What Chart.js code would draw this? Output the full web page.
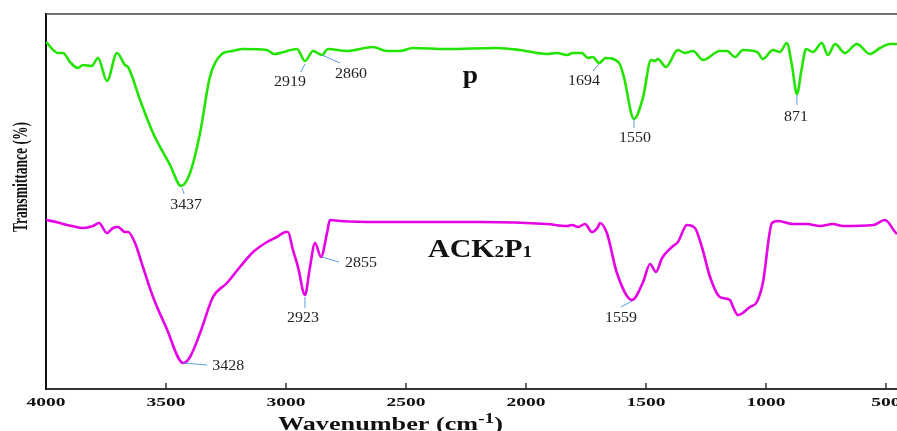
<!DOCTYPE html>
<html>
<head>
<meta charset="utf-8">
<script src="https://cdn.jsdelivr.net/npm/chart.js@4.4.1/dist/chart.umd.min.js"></script>
<style>
html,body{margin:0;padding:0;background:#fff;}
#wrap{width:897px;height:431px;position:relative;}
</style>
</head>
<body>
<div id="wrap"><canvas id="c" width="897" height="431"></canvas></div>
<script>
// ---------- DATA ----------
const seriesNames = ['P', 'ACK2P1'];
// wavenumbers (cm-1) and relative transmittance (arbitrary units) for sample P
const pWavenumber = [4000,3950,3929,3900,3867,3846,3810,3783,3746,3704,3671,3658,3608,3554,3483,3437,3400,3358,3317,3267,3221,3179,3079,3050,2954,2921,2887,2850,2825,2746,2638,2580,2525,2471,2333,2121,2025,1913,1871,1829,1804,1767,1742,1721,1696,1667,1612,1592,1550,1512,1479,1463,1450,1417,1367,1338,1304,1262,1192,1162,1129,1096,1037,1013,971,942,913,892,871,852,833,804,767,742,712,671,621,567,525,483,454];
const pValue      = [347,336,336,327,321,324,323,331,308,336,324,322,289,256,224,203,216,256,312,335,338,340,339,335,340,328,338,334,340,338,342,338,338,341,340,341,339,335,336,334,336,336,331,332,326,331,326,312,270,292,329,328,330,322,339,336,338,329,338,338,332,339,337,330,339,337,346,324,295,319,340,337,346,334,345,336,345,335,341,345,345];
// sample ACK2P1
const aWavenumber = [4000,3958,3929,3892,3846,3804,3779,3746,3721,3700,3671,3658,3629,3596,3554,3500,3428,3400,3358,3304,3246,3192,3137,3079,3038,3000,2992,2971,2950,2921,2900,2879,2854,2829,2817,2775,2608,2192,1913,1829,1808,1783,1754,1725,1700,1692,1663,1621,1558,1512,1483,1458,1433,1392,1367,1329,1296,1267,1233,1192,1150,1137,1117,1067,1038,1013,975,950,888,829,775,721,679,554,504,462,454];
const aValue      = [169,167,165,163,161,163,166,156,161,162,157,157,146,122,92,62,26,32,56,92,106,122,137,147,152,157,157,139,122,94,122,146,132,156,169,168,167,167,165,163,164,162,165,157,162,166,156,116,89,107,125,117,131,142,147,164,161,142,112,92,89,82,74,82,87,106,166,168,165,165,163,165,163,164,169,157,155];
// x-axis tick labels
const xTicks = [4000,3500,3000,2500,2000,1500,1000,500];
// peak annotations: series, wavenumber of marked point, label text
const peakSeries = ['P','P','P','P','P','P','ACK2P1','ACK2P1','ACK2P1','ACK2P1'];
const peakWn     = [3437,2921,2850,1696,1550,871,3428,2921,2854,1558];
const peakText   = ['3437','2919','2860','1694','1550','871','3428','2923','2855','1559'];
const xTitle = ['Wavenumber (cm', '-1', ')'];
const yTitle = 'Transmittance (%)';

// ---------- LAYOUT / STYLE (pixel offsets relative to marked point) ----------
const peakLayout = [
  {l:[1,2,3,8],   t:[5,23]},
  {l:[0,3,-4,11], t:[-15,25]},
  {l:[0,0,18,8],  t:[29,23]},
  {l:[0,1,-6,8],  t:[-15,22]},
  {l:[0,0,0,9],   t:[1,23]},
  {l:[0,1,0,11],  t:[-1,27]},
  {l:[0,0,24,2],  t:[45,7]},
  {l:[0,2,0,13],  t:[-2,27]},
  {l:[1,0,18,5],  t:[40,10]},
  {l:[0,1,-11,7], t:[-11,22]}
];
const SERIF = '"Liberation Serif","Times New Roman",serif';

function toXY(wn, v){ return wn.map((w,i)=>({x:w, y:v[i]})); }
const lookup = {P:[pWavenumber,pValue], ACK2P1:[aWavenumber,aValue]};

function drawParts(ctx, parts, x, baseline, align, targetW, sxDefault){
  ctx.save();
  let w = 0;
  parts.forEach(p=>{ ctx.font = p.font; p.w = ctx.measureText(p.t).width; w += p.w; });
  const sx = targetW ? targetW / w : (sxDefault || 1);
  const total = w*sx;
  let left = align==='center' ? x - total/2 : (align==='right' ? x-total : x);
  ctx.translate(left, baseline);
  ctx.scale(sx,1);
  ctx.textAlign='left'; ctx.textBaseline='alphabetic';
  let cx = 0;
  parts.forEach(p=>{ ctx.font=p.font; ctx.fillStyle=p.color||'#111'; ctx.fillText(p.t, cx, p.dy||0); cx += p.w; });
  ctx.restore();
}

const decor = {
  id:'decor',
  afterDraw(chart){
    const ctx = chart.ctx, xs = chart.scales.x, ys = chart.scales.y, ca = chart.chartArea;
    ctx.save();
    // top frame line
    ctx.strokeStyle='#444'; ctx.lineWidth=1.5;
    ctx.beginPath(); ctx.moveTo(ca.left, ca.top); ctx.lineTo(ca.right, ca.top); ctx.stroke();
    // inward tick marks and tick labels
    ctx.strokeStyle='#333'; ctx.lineWidth=1.5;
    xTicks.forEach(t=>{
      const px = xs.getPixelForValue(t);
      if (t !== xs.max) { ctx.beginPath(); ctx.moveTo(px, ca.bottom); ctx.lineTo(px, ca.bottom-6); ctx.stroke(); }
      drawParts(ctx, [{t:String(t), font:'bold 13px '+SERIF, color:'#111'}], px, ca.bottom+17, 'center', null, 1.5);
    });
    // axis titles
    drawParts(ctx, [
      {t:xTitle[0], font:'bold 19px '+SERIF},
      {t:xTitle[1], font:'bold 14px '+SERIF, dy:-7},
      {t:xTitle[2], font:'bold 19px '+SERIF}
    ], 278, 430, 'left', 225);
    ctx.save();
    ctx.translate(27, 177);
    ctx.rotate(-Math.PI/2);
    drawParts(ctx, [{t:yTitle, font:'bold 21px '+SERIF}], 0, 0, 'center', 110);
    ctx.restore();
    // series labels
    drawParts(ctx, [{t:'p', font:'bold 25px '+SERIF}], 470.5, 83, 'center', null, 1.1);
    drawParts(ctx, [
      {t:'ACK', font:'bold 25px '+SERIF},
      {t:'2', font:'bold 16px '+SERIF},
      {t:'P', font:'bold 25px '+SERIF},
      {t:'1', font:'bold 16px '+SERIF}
    ], 428, 257, 'left', 104);
    // peak annotations
    peakWn.forEach((wn,i)=>{
      const [W,V] = lookup[peakSeries[i]];
      const idx = W.indexOf(wn);
      const px = xs.getPixelForValue(wn), py = ys.getPixelForValue(V[idx]);
      const L = peakLayout[i];
      ctx.strokeStyle='#5b9be0'; ctx.lineWidth=1;
      ctx.beginPath(); ctx.moveTo(px+L.l[0], py+L.l[1]); ctx.lineTo(px+L.l[2], py+L.l[3]); ctx.stroke();
      drawParts(ctx, [{t:peakText[i], font:'14.5px '+SERIF, color:'#222'}], px+L.t[0], py+L.t[1], 'center', null, 1.1);
    });
    ctx.restore();
  }
};

new Chart(document.getElementById('c'), {
  type:'line',
  data:{
    datasets:[
      {label:seriesNames[0], data:toXY(pWavenumber,pValue), borderColor:'#22e400', borderWidth:2.6, pointRadius:0, cubicInterpolationMode:'monotone', fill:false},
      {label:seriesNames[1], data:toXY(aWavenumber,aValue), borderColor:'#e600e6', borderWidth:2.6, pointRadius:0, cubicInterpolationMode:'monotone', fill:false}
    ]
  },
  options:{
    responsive:false, animation:false, parsing:true,
    layout:{padding:{left:46, top:14, right:0, bottom:42}},
    plugins:{legend:{display:false}, tooltip:{enabled:false}},
    scales:{
      x:{type:'linear', reverse:true, min:454, max:4000,
         grid:{display:false, drawTicks:false}, ticks:{display:false},
         border:{display:true, color:'#333', width:2}},
      y:{type:'linear', min:0, max:375,
         grid:{display:false, drawTicks:false}, ticks:{display:false},
         border:{display:true, color:'#111', width:2}}
    }
  },
  plugins:[decor]
});
</script>
</body>
</html>
